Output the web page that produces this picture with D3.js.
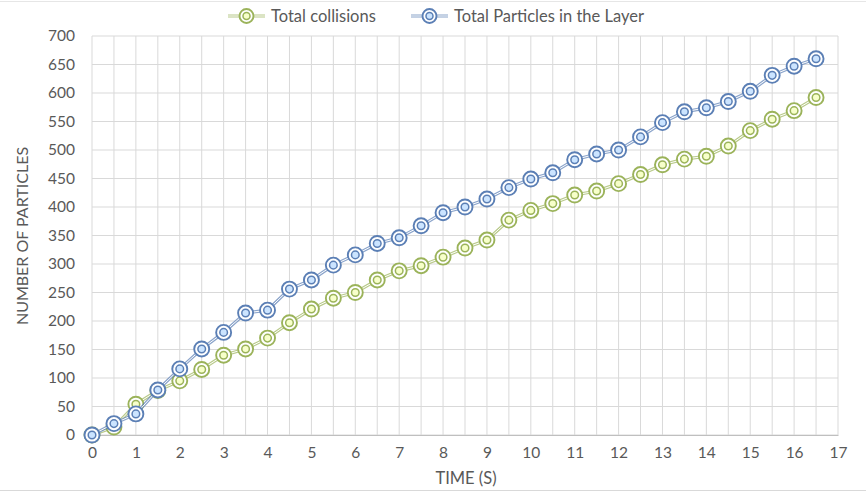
<!DOCTYPE html>
<html><head><meta charset="utf-8">
<script src="https://cdn.jsdelivr.net/npm/d3@7"></script>
<style>body{margin:0;background:#fff}svg{display:block}text{font-family:Lato,"Open Sans",sans-serif;fill:#595959}</style>
</head><body><svg id="c" width="866" height="492"></svg>
<script>
const time = [0,0.5,1,1.5,2,2.5,3,3.5,4,4.5,5,5.5,6,6.5,7,7.5,8,8.5,9,9.5,10,10.5,11,11.5,12,12.5,13,13.5,14,14.5,15,15.5,16,16.5];
const totalCollisions = [0,14,54,78,95,115,140,151,170,197,221,240,250,272,288,297,312,328,342,377,394,406,421,428,441,457,474,484,489,507,534,554,569,592];
const totalParticles = [0,20,37,79,116,151,180,214,219,256,272,298,316,336,346,367,390,400,414,434,449,460,483,493,500,523,548,567,574,585,603,631,647,660];
const xTicks = d3.range(0,18,1);
const yTicks = d3.range(0,701,50);
const seriesNames = ["Total collisions","Total Particles in the Layer"];
const colors = ["#9bb35a","#5b7fb5"];

const svg = d3.select("#c");
const W=866,H=492;
const x = d3.scaleLinear().domain([0,17]).range([92,838]);
const y = d3.scaleLinear().domain([0,700]).range([435,36]);

svg.append("line").attr("x1",0).attr("x2",W).attr("y1",1.5).attr("y2",1.5).attr("stroke","#e6e6e6");
svg.append("line").attr("x1",0).attr("x2",W).attr("y1",H-1.5).attr("y2",H-1.5).attr("stroke","#d9d9d9");

// gridlines
const g = svg.append("g");
g.selectAll(".hg").data(yTicks).join("line")
 .attr("x1",x(0)).attr("x2",x(17)).attr("y1",d=>y(d)).attr("y2",d=>y(d))
 .attr("stroke","#d9d9d9").attr("stroke-width",1);
g.selectAll(".vg").data(d3.range(0,17.01,0.5)).join("line")
 .attr("x1",d=>x(d)).attr("x2",d=>x(d)).attr("y1",y(0)).attr("y2",y(700))
 .attr("stroke","#d9d9d9").attr("stroke-width",1);

// axes
const xa = svg.append("g").attr("transform",`translate(0,${y(0)})`)
 .call(d3.axisBottom(x).tickValues(xTicks).tickFormat(d3.format("d")).tickSize(0).tickPadding(12));
xa.select(".domain").attr("stroke","#bfbfbf");
xa.selectAll("text").style("font-size","15.5px").style("fill","#595959");
const ya = svg.append("g").attr("transform",`translate(${x(0)},0)`)
 .call(d3.axisLeft(y).tickValues(yTicks).tickSize(0).tickPadding(17));
ya.select(".domain").remove();
ya.selectAll("text").style("font-size","15.5px").style("fill","#595959");

svg.append("text").attr("x",466).attr("y",484).attr("text-anchor","middle").style("font-size","16.5px").text("TIME (S)");
svg.append("text").attr("transform","translate(28,236) rotate(-90)").attr("text-anchor","middle").style("font-size","16px").text("NUMBER OF PARTICLES");

function drawSeries(vals,col){
  const pts = time.map((t,i)=>[t,vals[i]]);
  const line = d3.line().x(d=>x(d[0])).y(d=>y(d[1]));
  const s = svg.append("g");
  s.append("path").attr("d",line(pts)).attr("fill","none").attr("stroke",col).attr("stroke-width",3.2).attr("opacity",0.7);
  s.append("path").attr("d",line(pts)).attr("fill","none").attr("stroke","#fff").attr("stroke-width",1);
  const mk = s.selectAll("g").data(pts).join("g").attr("transform",d=>`translate(${x(d[0])},${y(d[1])})`);
  mk.append("circle").attr("r",7.5).attr("fill","#fff").attr("stroke",col).attr("stroke-width",1.9);
  mk.append("circle").attr("r",3.8).attr("fill",d3.color(col).brighter(1.2)).attr("fill-opacity",0.45).attr("stroke",col).attr("stroke-width",1.5);
}
drawSeries(totalCollisions,colors[0]);
drawSeries(totalParticles,colors[1]);

// legend
const leg = [{x:228,name:seriesNames[0],c:colors[0]},{x:411,name:seriesNames[1],c:colors[1]}];
leg.forEach(l=>{
  const lg = svg.append("g").attr("transform",`translate(${l.x},16)`);
  lg.append("line").attr("x1",0).attr("x2",37).attr("stroke",l.c).attr("stroke-width",3).attr("opacity",0.7);
  lg.append("line").attr("x1",0).attr("x2",37).attr("stroke","#fff").attr("stroke-width",1);
  lg.append("circle").attr("cx",18.5).attr("r",7).attr("fill","#fff").attr("stroke",l.c).attr("stroke-width",1.9);
  lg.append("circle").attr("cx",18.5).attr("r",3.5).attr("fill",d3.color(l.c).brighter(1.2)).attr("fill-opacity",0.45).attr("stroke",l.c).attr("stroke-width",1.5);
  lg.append("text").attr("x",43).attr("y",6).style("font-size","16.5px").text(l.name);
});
</script></body></html>
